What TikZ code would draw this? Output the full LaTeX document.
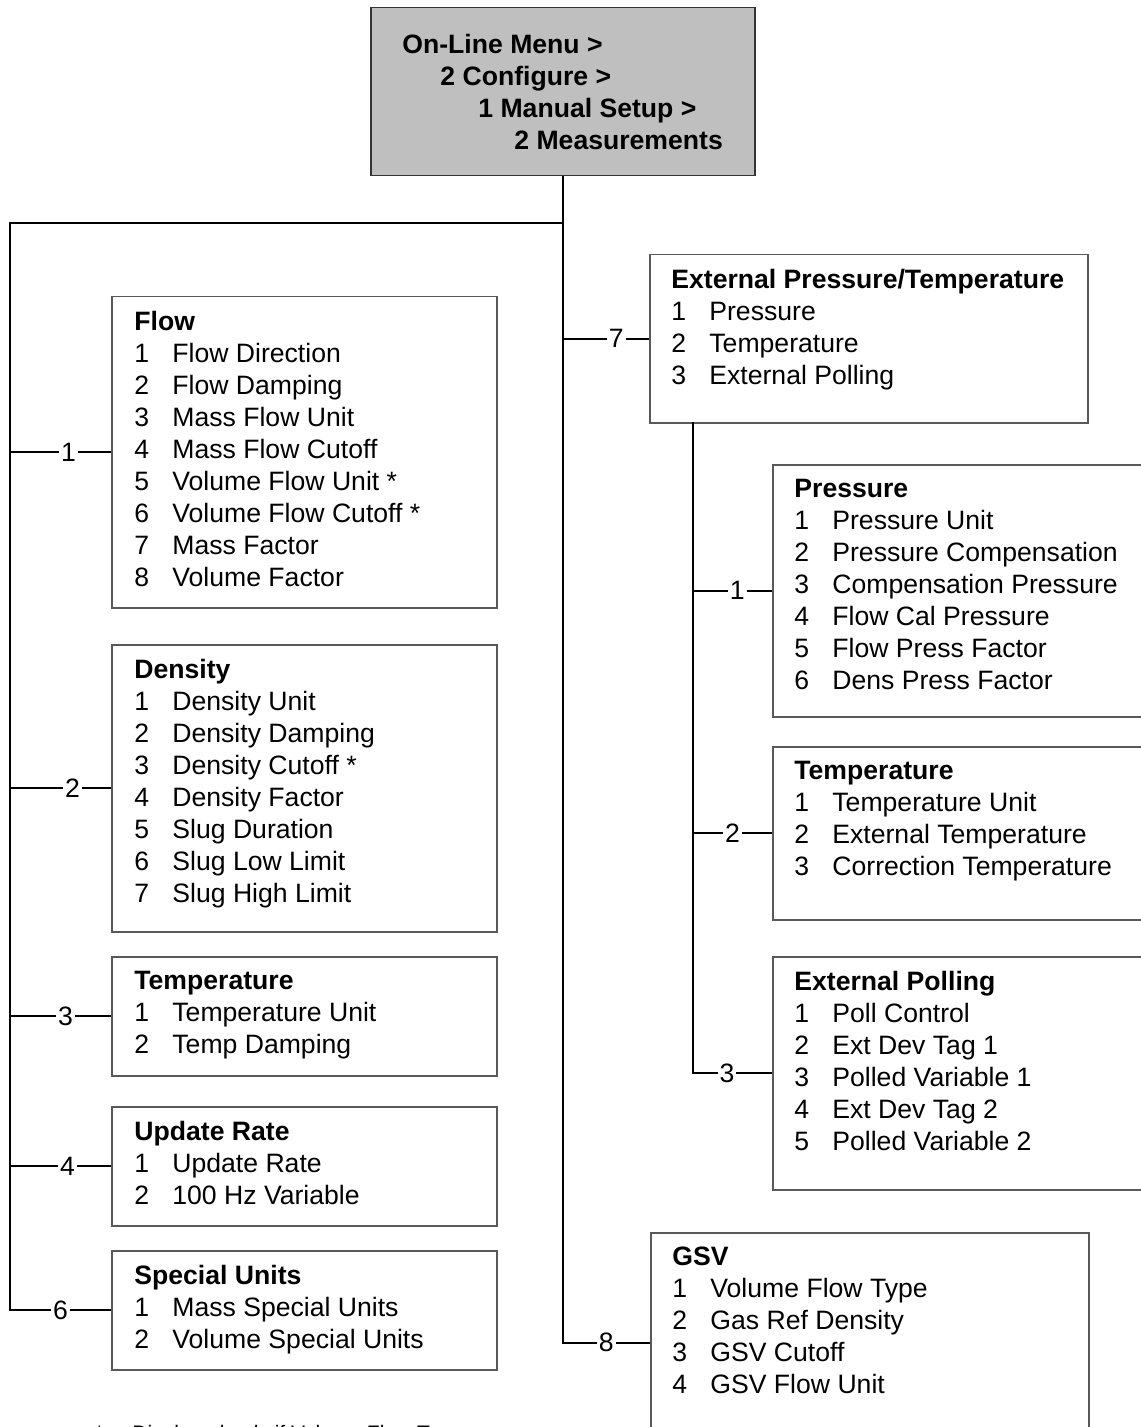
\documentclass[tikz,border=0pt]{standalone}
\usepackage{fontspec}
\setmainfont{Liberation Sans}
\usetikzlibrary{positioning}

\newcommand{\menuitem}[2]{\makebox[19pt][l]{#1}#2}

\begin{document}
\begin{tikzpicture}[
    x=0.5pt, y=-0.5pt,
    box/.style={draw=black!65, line width=0.75pt, anchor=north west, inner sep=0pt},
    txt/.style={anchor=north west, align=left, inner sep=0pt, font=\fontsize{13.3}{16}\selectfont},
    conn/.style={line width=1pt},
    num/.style={fill=white, inner sep=1pt, font=\fontsize{13.3}{16}\selectfont}
]
\useasboundingbox (0,0) rectangle (1140,1427);

% Menu path
\node[box, draw=black!80, fill=black!25, minimum width=192pt, minimum height=84pt] (menu) at (370,7) {};
\node[txt, font=\fontsize{13.3}{16}\selectfont\bfseries, below right=13.5pt and 16pt of menu.north west] (menutxt)
{On-Line Menu >\\\hspace*{19pt}2 Configure >\\\hspace*{38pt}1 Manual Setup >\\\hspace*{56pt}2 Measurements};

% Left column
\node[box, minimum width=192.5pt, minimum height=155.5pt] (flow) at (111,296) {};
\node[txt, below right=7.5pt and 11.5pt of flow.north west] (flowtxt)
{\textbf{Flow}\\\menuitem{1}{Flow Direction}\\\menuitem{2}{Flow Damping}\\\menuitem{3}{Mass Flow Unit}\\\menuitem{4}{Mass Flow Cutoff}\\\menuitem{5}{Volume Flow Unit *}\\\menuitem{6}{Volume Flow Cutoff *}\\\menuitem{7}{Mass Factor}\\\menuitem{8}{Volume Factor}};

\node[box, minimum width=192.5pt, minimum height=143.5pt] (dens) at (111,644) {};
\node[txt, below right=7.5pt and 11.5pt of dens.north west] (denstxt)
{\textbf{Density}\\\menuitem{1}{Density Unit}\\\menuitem{2}{Density Damping}\\\menuitem{3}{Density Cutoff *}\\\menuitem{4}{Density Factor}\\\menuitem{5}{Slug Duration}\\\menuitem{6}{Slug Low Limit}\\\menuitem{7}{Slug High Limit}};

\node[box, minimum width=192.5pt, minimum height=59.5pt] (temp) at (111,956) {};
\node[txt, below right=7.5pt and 11.5pt of temp.north west] (temptxt)
{\textbf{Temperature}\\\menuitem{1}{Temperature Unit}\\\menuitem{2}{Temp Damping}};

\node[box, minimum width=192.5pt, minimum height=59.5pt] (rate) at (111,1106) {};
\node[txt, below right=7.5pt and 11.5pt of rate.north west] (ratetxt)
{\textbf{Update Rate}\\\menuitem{1}{Update Rate}\\\menuitem{2}{100 Hz Variable}};

\node[box, minimum width=192.5pt, minimum height=59.5pt] (spec) at (111,1250) {};
\node[txt, below right=7.5pt and 11.5pt of spec.north west] (spectxt)
{\textbf{Special Units}\\\menuitem{1}{Mass Special Units}\\\menuitem{2}{Volume Special Units}};

% Right column
\node[box, minimum width=219pt, minimum height=84pt] (ext) at (649,254) {};
\node[txt, below right=7.5pt and 11pt of ext.north west] (exttxt)
{\textbf{External Pressure/Temperature}\\\menuitem{1}{Pressure}\\\menuitem{2}{Temperature}\\\menuitem{3}{External Polling}};

\node[box, minimum width=194pt, minimum height=126pt] (press) at (772,464) {};
\node[txt, below right=7.5pt and 11pt of press.north west] (presstxt)
{\textbf{Pressure}\\\menuitem{1}{Pressure Unit}\\\menuitem{2}{Pressure Compensation}\\\menuitem{3}{Compensation Pressure}\\\menuitem{4}{Flow Cal Pressure}\\\menuitem{5}{Flow Press Factor}\\\menuitem{6}{Dens Press Factor}};

\node[box, minimum width=194pt, minimum height=86.5pt] (extemp) at (772,746) {};
\node[txt, below right=7.5pt and 11pt of extemp.north west] (extemptxt)
{\textbf{Temperature}\\\menuitem{1}{Temperature Unit}\\\menuitem{2}{External Temperature}\\\menuitem{3}{Correction Temperature}};

\node[box, minimum width=194pt, minimum height=116.5pt] (poll) at (772,956) {};
\node[txt, below right=7.5pt and 11pt of poll.north west] (polltxt)
{\textbf{External Polling}\\\menuitem{1}{Poll Control}\\\menuitem{2}{Ext Dev Tag 1}\\\menuitem{3}{Polled Variable 1}\\\menuitem{4}{Ext Dev Tag 2}\\\menuitem{5}{Polled Variable 2}};

\node[box, minimum width=219pt, minimum height=110pt] (gsv) at (650,1232) {};
\node[txt, below right=7.5pt and 11pt of gsv.north west] (gsvtxt)
{\textbf{GSV}\\\menuitem{1}{Volume Flow Type}\\\menuitem{2}{Gas Ref Density}\\\menuitem{3}{GSV Cutoff}\\\menuitem{4}{GSV Flow Unit}};

% Footnote
\node[anchor=base west, inner sep=0pt, font=\fontsize{10.5}{12}\selectfont] (note) at (95,1440)
{\makebox[18.5pt][l]{*}Displayed only if Volume Flow Type};

% Connectors
\coordinate (split) at (562,223);
\coordinate (leftbus) at (10,223);
\coordinate (extdown) at (693,422);

\draw[conn] (menu.south) -- (gsv.west -| menu.south) -- node[num, pos=.5] {8} (gsv.west);
\draw[conn] (split) -- (leftbus) -- (leftbus |- spec.west) -- node[num, pos=.5] {6} (spec.west);
\draw[conn] (leftbus |- flow.west) -- node[num, pos=.58] {1} (flow.west);
\draw[conn] (leftbus |- dens.west) -- node[num, pos=.62] {2} (dens.west);
\draw[conn] (leftbus |- temp.west) -- node[num, pos=.55] {3} (temp.west);
\draw[conn] (leftbus |- rate.west) -- node[num, pos=.57] {4} (rate.west);
\draw[conn] (menu.south |- ext.west) -- node[num, pos=.62] {7} (ext.west);

\draw[conn] (extdown) -- (extdown |- poll.west) -- node[num, pos=.43] {3} (poll.west);
\draw[conn] (extdown |- press.west) -- node[num, pos=.56] {1} (press.west);
\draw[conn] (extdown |- extemp.west) -- node[num, pos=.5] {2} (extemp.west);
\end{tikzpicture}
\end{document}
